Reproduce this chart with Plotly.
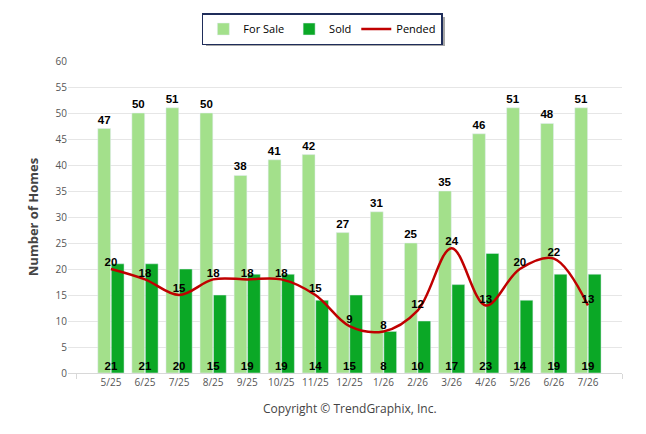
import plotly.graph_objects as go

months = ['5/25', '6/25', '7/25', '8/25', '9/25', '10/25', '11/25', '12/25',
          '1/26', '2/26', '3/26', '4/26', '5/26', '6/26', '7/26']
for_sale = [47, 50, 51, 50, 38, 41, 42, 27, 31, 25, 35, 46, 51, 48, 51]
sold = [21, 21, 20, 15, 19, 19, 14, 15, 8, 10, 17, 23, 14, 19, 19]
pended = [20, 18, 15, 18, 18, 18, 15, 9, 8, 12, 24, 13, 20, 22, 13]

x = list(range(len(months)))
label_font = dict(family='Liberation Sans', size=11.5, color='#000000', weight='bold')

fig = go.Figure()

fig.add_trace(go.Bar(
  x = x, y = for_sale, name = 'For Sale',
  width = 0.375, offset = -0.385,
  marker = dict(color = '#a3e08b'),
  text = for_sale, textposition = 'outside', cliponaxis = False,
  textfont = label_font, constraintext = 'none',
))

fig.add_trace(go.Bar(
  x = x, y = sold, name = 'Sold',
  width = 0.375, offset = 0.01,
  marker = dict(color = '#0ba826'),
))

# sold counts sit at the bottom, centred on the month
fig.add_trace(go.Scatter(
  x = x, y = [0] * len(x), mode = 'text', text = sold,
  textposition = 'top center', textfont = label_font,
  showlegend = False, hoverinfo = 'skip', cliponaxis = False,
))

fig.add_trace(go.Scatter(
  x = x, y = pended, name = 'Pended',
  mode = 'lines+text', line = dict(color = '#c00000', width = 2.5, shape = 'spline', smoothing = 1),
  text = pended, textposition = 'top center', textfont = label_font,
))

# page body has an 8px margin, so the figure is 16px smaller than the window
fig.update_layout(
  width = 630, height = 418,
  margin = dict(l = 60, r = 16, t = 53, b = 53, autoexpand = False),
  plot_bgcolor = 'white', paper_bgcolor = 'white',
  font = dict(family = 'Open Sans', color = '#555555'),
  barmode = 'overlay',
  showlegend = True,
  legend = dict(
    orientation = 'h', xref = 'container', yref = 'container',
    x = 0.499, xanchor = 'center', y = 0.988, yanchor = 'top',
    bordercolor = '#1f2d5a', borderwidth = 1.5, bgcolor = 'white',
    font = dict(family = 'Open Sans', size = 11, color = '#000000'),
    traceorder = 'normal',
  ),
  shapes = [dict( # legend drop shadow
    type = 'rect', xref = 'paper', yref = 'paper', layer = 'below',
    x0 = 0.2491, x1 = 0.6805, y0 = 1.048, y1 = 1.141,
    fillcolor = 'rgba(60,60,60,0.45)', line = dict(width = 0),
  )],
  annotations = [dict(
    text = 'Copyright © TrendGraphix, Inc.', showarrow = False,
    xref = 'paper', yref = 'paper', x = 0.509, y = -0.115,
    xanchor = 'center', yanchor = 'middle',
    font = dict(family = 'Open Sans', size = 12, color = '#444444'),
  )],
)

fig.update_xaxes(
  range = [-1.26, 15.0], tickvals = x, ticktext = months,
  showgrid = False, showline = True, linecolor = '#d8d8d8', linewidth = 1,
  tickfont = dict(size = 10, color = '#555555'), ticks = '',
  minor = dict(tickvals = [-1, 15], ticks = 'outside', ticklen = 5, tickcolor = '#d8d8d8', showgrid = False),
)
fig.update_yaxes(
  range = [0, 60], dtick = 5, showgrid = True, gridcolor = '#e6e6e6',
  zeroline = False, tickfont = dict(size = 10, color = '#555555'),
  title = dict(text = 'Number of Homes', font = dict(family = 'Open Sans', size = 13, color = '#444444', weight = 'bold'), standoff = 14),
)

fig.write_html('out.html')
